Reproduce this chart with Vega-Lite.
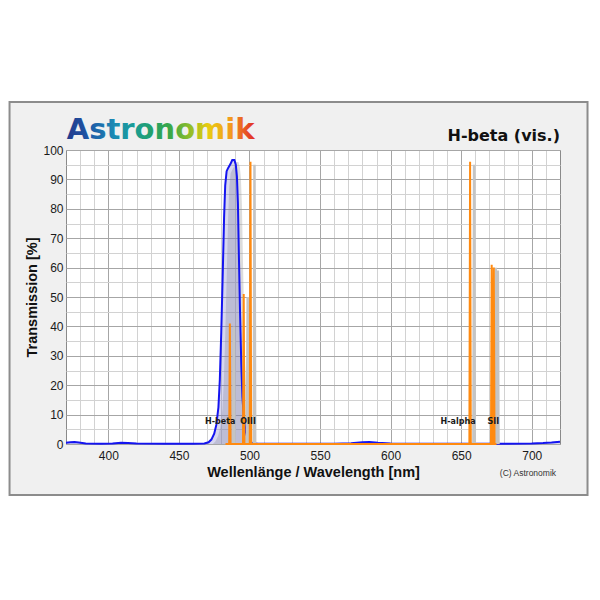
{
  "$schema": "https://vega.github.io/schema/vega-lite/v6.json",
  "width": 494,
  "height": 294,
  "autosize": "none",
  "padding": {"left": 66, "top": 150, "right": 40, "bottom": 156},
  "background": "#f0f0f0",
  "config": {
    "view": {"fill": "white", "stroke": "#8a8a8a", "strokeWidth": 1},
    "axis": {"grid": true, "labelFont": "Liberation Sans", "labelFontSize": 12, "labelColor": "#1a1a1a", "titleFont": "Liberation Sans", "titleFontSize": 14.5, "titleFontWeight": "bold", "titleColor": "#111111", "ticks": false, "domain": false, "labelOverlap": false, "labelFlush": false},
    "axisX": {"labelPadding": 6, "titlePadding": 4},
    "axisY": {"labelPadding": 3, "titlePadding": 3}
  },
  "datasets": {
    "one": [{"k": 1}],
    "filter": [
      {"wl": 370, "t": 0.45}, {"wl": 373, "t": 0.6}, {"wl": 376, "t": 0.7}, {"wl": 379, "t": 0.5}, {"wl": 384, "t": 0.2},
      {"wl": 395, "t": 0.1}, {"wl": 403, "t": 0.15}, {"wl": 409, "t": 0.4}, {"wl": 414, "t": 0.3}, {"wl": 420, "t": 0.15},
      {"wl": 440, "t": 0.1}, {"wl": 460, "t": 0.1}, {"wl": 468, "t": 0.2}, {"wl": 471, "t": 0.6}, {"wl": 473, "t": 1.5},
      {"wl": 475, "t": 3.5}, {"wl": 476.5, "t": 6.5}, {"wl": 478, "t": 12.5}, {"wl": 479, "t": 22}, {"wl": 480, "t": 38},
      {"wl": 481, "t": 57}, {"wl": 482, "t": 77}, {"wl": 482.8, "t": 88}, {"wl": 483.8, "t": 92.8}, {"wl": 485, "t": 94},
      {"wl": 486.5, "t": 95.2}, {"wl": 487.8, "t": 96.6}, {"wl": 489.3, "t": 96.6}, {"wl": 490.3, "t": 95}, {"wl": 491.1, "t": 91},
      {"wl": 491.8, "t": 82}, {"wl": 492.5, "t": 64}, {"wl": 493.3, "t": 45}, {"wl": 494.2, "t": 27}, {"wl": 495, "t": 16},
      {"wl": 496, "t": 9}, {"wl": 497, "t": 5}, {"wl": 498.5, "t": 2.2}, {"wl": 500, "t": 0.9}, {"wl": 502, "t": 0.3},
      {"wl": 506, "t": 0.1}, {"wl": 530, "t": 0.05}, {"wl": 560, "t": 0.1}, {"wl": 572, "t": 0.25}, {"wl": 580, "t": 0.6},
      {"wl": 585, "t": 0.7}, {"wl": 591, "t": 0.4}, {"wl": 600, "t": 0.15}, {"wl": 630, "t": 0.1}, {"wl": 680, "t": 0.1},
      {"wl": 700, "t": 0.15}, {"wl": 708, "t": 0.3}, {"wl": 714, "t": 0.5}, {"wl": 720, "t": 0.8}
    ],
    "lines": [
      {"wl": 483, "t": 0}, {"wl": 485.6, "t": 0}, {"wl": 486.1, "t": 41}, {"wl": 486.6, "t": 0},
      {"wl": 495.4, "t": 0}, {"wl": 495.9, "t": 51}, {"wl": 496.4, "t": 0},
      {"wl": 500.2, "t": 0}, {"wl": 500.7, "t": 96}, {"wl": 501.2, "t": 0},
      {"wl": 655.8, "t": 0}, {"wl": 656.3, "t": 96}, {"wl": 656.8, "t": 0},
      {"wl": 671.1, "t": 0}, {"wl": 671.6, "t": 61}, {"wl": 672.1, "t": 0},
      {"wl": 672.6, "t": 0}, {"wl": 673.1, "t": 60}, {"wl": 673.6, "t": 0}, {"wl": 675, "t": 0}
    ],
    "labels": [
      {"label": "H-beta", "wl": 486.1}, {"label": "OIII", "wl": 500.7},
      {"label": "H-alpha", "wl": 656.3}, {"label": "SII", "wl": 673.1}
    ]
  },
  "layer": [
    {"data": {"name": "one"}, "mark": {"type": "rect", "color": "white"},
     "encoding": {
       "x": {"datum": 200, "type": "quantitative", "scale": {"domain": [370, 720], "nice": false, "zero": false}, "axis": {"grid": true, "title": "Wellenlänge / Wavelength [nm]", "values": [380, 390, 400, 410, 420, 430, 440, 450, 460, 470, 480, 490, 500, 510, 520, 530, 540, 550, 560, 570, 580, 590, 600, 610, 620, 630, 640, 650, 660, 670, 680, 690, 700, 710], "labelExpr": "datum.value % 50 === 0 ? datum.label : ''", "gridColor": {"condition": {"test": "datum.value % 50 === 0", "value": "#a6a6a6"}, "value": "#d2d2d2"}}},
       "x2": {"datum": 900},
       "y": {"datum": 116.3, "type": "quantitative", "scale": {"domain": [0, 100], "nice": false, "zero": false}, "axis": {"grid": true, "title": "Transmission [%]", "values": [0, 5, 10, 15, 20, 25, 30, 35, 40, 45, 50, 55, 60, 65, 70, 75, 80, 85, 90, 95, 100], "labelExpr": "datum.value % 10 === 0 ? datum.label : ''", "gridColor": {"condition": {"test": "datum.value % 10 === 0", "value": "#a6a6a6"}, "value": "#d2d2d2"}}},
       "y2": {"datum": 300}}},
    {"data": {"name": "one"}, "mark": {"type": "rect", "color": "white"},
     "encoding": {
       "x": {"datum": 200, "type": "quantitative", "scale": {"domain": [370, 720], "nice": false, "zero": false}, "axis": {"grid": true, "title": "Wellenlänge / Wavelength [nm]", "values": [380, 390, 400, 410, 420, 430, 440, 450, 460, 470, 480, 490, 500, 510, 520, 530, 540, 550, 560, 570, 580, 590, 600, 610, 620, 630, 640, 650, 660, 670, 680, 690, 700, 710], "labelExpr": "datum.value % 50 === 0 ? datum.label : ''", "gridColor": {"condition": {"test": "datum.value % 50 === 0", "value": "#a6a6a6"}, "value": "#d2d2d2"}}},
       "x2": {"datum": 900},
       "y": {"datum": -17.35, "type": "quantitative", "scale": {"domain": [0, 100], "nice": false, "zero": false}, "axis": {"grid": true, "title": "Transmission [%]", "values": [0, 5, 10, 15, 20, 25, 30, 35, 40, 45, 50, 55, 60, 65, 70, 75, 80, 85, 90, 95, 100], "labelExpr": "datum.value % 10 === 0 ? datum.label : ''", "gridColor": {"condition": {"test": "datum.value % 10 === 0", "value": "#a6a6a6"}, "value": "#d2d2d2"}}},
       "y2": {"datum": -200}}},
    {"data": {"name": "one"}, "mark": {"type": "rect", "color": "white"},
     "encoding": {
       "x": {"datum": 200, "type": "quantitative", "scale": {"domain": [370, 720], "nice": false, "zero": false}, "axis": {"grid": true, "title": "Wellenlänge / Wavelength [nm]", "values": [380, 390, 400, 410, 420, 430, 440, 450, 460, 470, 480, 490, 500, 510, 520, 530, 540, 550, 560, 570, 580, 590, 600, 610, 620, 630, 640, 650, 660, 670, 680, 690, 700, 710], "labelExpr": "datum.value % 50 === 0 ? datum.label : ''", "gridColor": {"condition": {"test": "datum.value % 50 === 0", "value": "#a6a6a6"}, "value": "#d2d2d2"}}},
       "x2": {"datum": 330},
       "y": {"datum": -200, "type": "quantitative", "scale": {"domain": [0, 100], "nice": false, "zero": false}, "axis": {"grid": true, "title": "Transmission [%]", "values": [0, 5, 10, 15, 20, 25, 30, 35, 40, 45, 50, 55, 60, 65, 70, 75, 80, 85, 90, 95, 100], "labelExpr": "datum.value % 10 === 0 ? datum.label : ''", "gridColor": {"condition": {"test": "datum.value % 10 === 0", "value": "#a6a6a6"}, "value": "#d2d2d2"}}},
       "y2": {"datum": 300}}},
    {"data": {"name": "one"}, "mark": {"type": "rect", "color": "white"},
     "encoding": {
       "x": {"datum": 739.5, "type": "quantitative", "scale": {"domain": [370, 720], "nice": false, "zero": false}, "axis": {"grid": true, "title": "Wellenlänge / Wavelength [nm]", "values": [380, 390, 400, 410, 420, 430, 440, 450, 460, 470, 480, 490, 500, 510, 520, 530, 540, 550, 560, 570, 580, 590, 600, 610, 620, 630, 640, 650, 660, 670, 680, 690, 700, 710], "labelExpr": "datum.value % 50 === 0 ? datum.label : ''", "gridColor": {"condition": {"test": "datum.value % 50 === 0", "value": "#a6a6a6"}, "value": "#d2d2d2"}}},
       "x2": {"datum": 900},
       "y": {"datum": -200, "type": "quantitative", "scale": {"domain": [0, 100], "nice": false, "zero": false}, "axis": {"grid": true, "title": "Transmission [%]", "values": [0, 5, 10, 15, 20, 25, 30, 35, 40, 45, 50, 55, 60, 65, 70, 75, 80, 85, 90, 95, 100], "labelExpr": "datum.value % 10 === 0 ? datum.label : ''", "gridColor": {"condition": {"test": "datum.value % 10 === 0", "value": "#a6a6a6"}, "value": "#d2d2d2"}}},
       "y2": {"datum": 300}}},
    {"data": {"name": "one"}, "mark": {"type": "rect", "fill": null, "filled": false, "stroke": "#8c8c8c", "strokeWidth": 2},
     "encoding": {
       "x": {"datum": 330, "type": "quantitative", "scale": {"domain": [370, 720], "nice": false, "zero": false}, "axis": {"grid": true, "title": "Wellenlänge / Wavelength [nm]", "values": [380, 390, 400, 410, 420, 430, 440, 450, 460, 470, 480, 490, 500, 510, 520, 530, 540, 550, 560, 570, 580, 590, 600, 610, 620, 630, 640, 650, 660, 670, 680, 690, 700, 710], "labelExpr": "datum.value % 50 === 0 ? datum.label : ''", "gridColor": {"condition": {"test": "datum.value % 50 === 0", "value": "#a6a6a6"}, "value": "#d2d2d2"}}},
       "x2": {"datum": 739.5},
       "y": {"datum": -17.35, "type": "quantitative", "scale": {"domain": [0, 100], "nice": false, "zero": false}, "axis": {"grid": true, "title": "Transmission [%]", "values": [0, 5, 10, 15, 20, 25, 30, 35, 40, 45, 50, 55, 60, 65, 70, 75, 80, 85, 90, 95, 100], "labelExpr": "datum.value % 10 === 0 ? datum.label : ''", "gridColor": {"condition": {"test": "datum.value % 10 === 0", "value": "#a6a6a6"}, "value": "#d2d2d2"}}},
       "y2": {"datum": 116.3}}},
    {"data": {"name": "one"}, "mark": {"type": "text", "text": "Astronomik", "font": "DejaVu Sans", "fontSize": 29, "fontWeight": "bold", "align": "left", "baseline": "alphabetic",
       "color": {"gradient": "linear", "x1": 0, "x2": 1, "y1": 0, "y2": 0, "stops": [
         {"offset": 0, "color": "#233a8c"}, {"offset": 0.12, "color": "#1e58a6"}, {"offset": 0.25, "color": "#1b8ab4"},
         {"offset": 0.35, "color": "#1a9c98"}, {"offset": 0.45, "color": "#22a06a"}, {"offset": 0.55, "color": "#3aa848"},
         {"offset": 0.65, "color": "#8cbc2a"}, {"offset": 0.75, "color": "#e8cc10"}, {"offset": 0.87, "color": "#f39a1e"},
         {"offset": 1, "color": "#e02828"}]}},
     "encoding": {
       "x": {"datum": 370.5, "type": "quantitative", "scale": {"domain": [370, 720], "nice": false, "zero": false}, "axis": {"grid": true, "title": "Wellenlänge / Wavelength [nm]", "values": [380, 390, 400, 410, 420, 430, 440, 450, 460, 470, 480, 490, 500, 510, 520, 530, 540, 550, 560, 570, 580, 590, 600, 610, 620, 630, 640, 650, 660, 670, 680, 690, 700, 710], "labelExpr": "datum.value % 50 === 0 ? datum.label : ''", "gridColor": {"condition": {"test": "datum.value % 50 === 0", "value": "#a6a6a6"}, "value": "#d2d2d2"}}},
       "y": {"datum": 103.6, "type": "quantitative", "scale": {"domain": [0, 100], "nice": false, "zero": false}, "axis": {"grid": true, "title": "Transmission [%]", "values": [0, 5, 10, 15, 20, 25, 30, 35, 40, 45, 50, 55, 60, 65, 70, 75, 80, 85, 90, 95, 100], "labelExpr": "datum.value % 10 === 0 ? datum.label : ''", "gridColor": {"condition": {"test": "datum.value % 10 === 0", "value": "#a6a6a6"}, "value": "#d2d2d2"}}}}},
    {"data": {"name": "one"}, "mark": {"type": "text", "text": "H-beta (vis.)", "font": "DejaVu Sans", "fontSize": 16, "fontWeight": "bold", "align": "right", "baseline": "alphabetic", "color": "#111111"},
     "encoding": {
       "x": {"datum": 720, "type": "quantitative", "scale": {"domain": [370, 720], "nice": false, "zero": false}, "axis": {"grid": true, "title": "Wellenlänge / Wavelength [nm]", "values": [380, 390, 400, 410, 420, 430, 440, 450, 460, 470, 480, 490, 500, 510, 520, 530, 540, 550, 560, 570, 580, 590, 600, 610, 620, 630, 640, 650, 660, 670, 680, 690, 700, 710], "labelExpr": "datum.value % 50 === 0 ? datum.label : ''", "gridColor": {"condition": {"test": "datum.value % 50 === 0", "value": "#a6a6a6"}, "value": "#d2d2d2"}}},
       "y": {"datum": 103.2, "type": "quantitative", "scale": {"domain": [0, 100], "nice": false, "zero": false}, "axis": {"grid": true, "title": "Transmission [%]", "values": [0, 5, 10, 15, 20, 25, 30, 35, 40, 45, 50, 55, 60, 65, 70, 75, 80, 85, 90, 95, 100], "labelExpr": "datum.value % 10 === 0 ? datum.label : ''", "gridColor": {"condition": {"test": "datum.value % 10 === 0", "value": "#a6a6a6"}, "value": "#d2d2d2"}}}}},
    {"data": {"name": "one"}, "mark": {"type": "text", "text": "(C) Astronomik", "font": "Liberation Sans", "fontSize": 8.5, "align": "right", "baseline": "middle", "color": "#333333"},
     "encoding": {
       "x": {"datum": 717.2, "type": "quantitative", "scale": {"domain": [370, 720], "nice": false, "zero": false}, "axis": {"grid": true, "title": "Wellenlänge / Wavelength [nm]", "values": [380, 390, 400, 410, 420, 430, 440, 450, 460, 470, 480, 490, 500, 510, 520, 530, 540, 550, 560, 570, 580, 590, 600, 610, 620, 630, 640, 650, 660, 670, 680, 690, 700, 710], "labelExpr": "datum.value % 50 === 0 ? datum.label : ''", "gridColor": {"condition": {"test": "datum.value % 50 === 0", "value": "#a6a6a6"}, "value": "#d2d2d2"}}},
       "y": {"datum": -9.9, "type": "quantitative", "scale": {"domain": [0, 100], "nice": false, "zero": false}, "axis": {"grid": true, "title": "Transmission [%]", "values": [0, 5, 10, 15, 20, 25, 30, 35, 40, 45, 50, 55, 60, 65, 70, 75, 80, 85, 90, 95, 100], "labelExpr": "datum.value % 10 === 0 ? datum.label : ''", "gridColor": {"condition": {"test": "datum.value % 10 === 0", "value": "#a6a6a6"}, "value": "#d2d2d2"}}}}},
    {"data": {"name": "filter"}, "mark": {"type": "area", "color": "#9a9a9a", "opacity": 0.35, "xOffset": 4, "yOffset": 2, "clip": true},
     "encoding": {
       "x": {"field": "wl", "type": "quantitative", "scale": {"domain": [370, 720], "nice": false, "zero": false}, "axis": {"grid": true, "title": "Wellenlänge / Wavelength [nm]", "values": [380, 390, 400, 410, 420, 430, 440, 450, 460, 470, 480, 490, 500, 510, 520, 530, 540, 550, 560, 570, 580, 590, 600, 610, 620, 630, 640, 650, 660, 670, 680, 690, 700, 710], "labelExpr": "datum.value % 50 === 0 ? datum.label : ''", "gridColor": {"condition": {"test": "datum.value % 50 === 0", "value": "#a6a6a6"}, "value": "#d2d2d2"}}},
       "y": {"field": "t", "type": "quantitative", "scale": {"domain": [0, 100], "nice": false, "zero": false}, "axis": {"grid": true, "title": "Transmission [%]", "values": [0, 5, 10, 15, 20, 25, 30, 35, 40, 45, 50, 55, 60, 65, 70, 75, 80, 85, 90, 95, 100], "labelExpr": "datum.value % 10 === 0 ? datum.label : ''", "gridColor": {"condition": {"test": "datum.value % 10 === 0", "value": "#a6a6a6"}, "value": "#d2d2d2"}}}}},
    {"data": {"name": "filter"}, "mark": {"type": "area", "color": "#6060c0", "opacity": 0.25},
     "encoding": {
       "x": {"field": "wl", "type": "quantitative", "scale": {"domain": [370, 720], "nice": false, "zero": false}, "axis": {"grid": true, "title": "Wellenlänge / Wavelength [nm]", "values": [380, 390, 400, 410, 420, 430, 440, 450, 460, 470, 480, 490, 500, 510, 520, 530, 540, 550, 560, 570, 580, 590, 600, 610, 620, 630, 640, 650, 660, 670, 680, 690, 700, 710], "labelExpr": "datum.value % 50 === 0 ? datum.label : ''", "gridColor": {"condition": {"test": "datum.value % 50 === 0", "value": "#a6a6a6"}, "value": "#d2d2d2"}}},
       "y": {"field": "t", "type": "quantitative", "scale": {"domain": [0, 100], "nice": false, "zero": false}, "axis": {"grid": true, "title": "Transmission [%]", "values": [0, 5, 10, 15, 20, 25, 30, 35, 40, 45, 50, 55, 60, 65, 70, 75, 80, 85, 90, 95, 100], "labelExpr": "datum.value % 10 === 0 ? datum.label : ''", "gridColor": {"condition": {"test": "datum.value % 10 === 0", "value": "#a6a6a6"}, "value": "#d2d2d2"}}}}},
    {"data": {"name": "filter"}, "mark": {"type": "line", "color": "#1414f0", "strokeWidth": 2},
     "encoding": {
       "x": {"field": "wl", "type": "quantitative", "scale": {"domain": [370, 720], "nice": false, "zero": false}, "axis": {"grid": true, "title": "Wellenlänge / Wavelength [nm]", "values": [380, 390, 400, 410, 420, 430, 440, 450, 460, 470, 480, 490, 500, 510, 520, 530, 540, 550, 560, 570, 580, 590, 600, 610, 620, 630, 640, 650, 660, 670, 680, 690, 700, 710], "labelExpr": "datum.value % 50 === 0 ? datum.label : ''", "gridColor": {"condition": {"test": "datum.value % 50 === 0", "value": "#a6a6a6"}, "value": "#d2d2d2"}}},
       "y": {"field": "t", "type": "quantitative", "scale": {"domain": [0, 100], "nice": false, "zero": false}, "axis": {"grid": true, "title": "Transmission [%]", "values": [0, 5, 10, 15, 20, 25, 30, 35, 40, 45, 50, 55, 60, 65, 70, 75, 80, 85, 90, 95, 100], "labelExpr": "datum.value % 10 === 0 ? datum.label : ''", "gridColor": {"condition": {"test": "datum.value % 10 === 0", "value": "#a6a6a6"}, "value": "#d2d2d2"}}}}},
    {"data": {"name": "lines"}, "mark": {"type": "line", "color": "#c4c4c4", "strokeWidth": 2.5, "xOffset": 4, "yOffset": 3, "clip": true},
     "encoding": {
       "x": {"field": "wl", "type": "quantitative", "scale": {"domain": [370, 720], "nice": false, "zero": false}, "axis": {"grid": true, "title": "Wellenlänge / Wavelength [nm]", "values": [380, 390, 400, 410, 420, 430, 440, 450, 460, 470, 480, 490, 500, 510, 520, 530, 540, 550, 560, 570, 580, 590, 600, 610, 620, 630, 640, 650, 660, 670, 680, 690, 700, 710], "labelExpr": "datum.value % 50 === 0 ? datum.label : ''", "gridColor": {"condition": {"test": "datum.value % 50 === 0", "value": "#a6a6a6"}, "value": "#d2d2d2"}}},
       "y": {"field": "t", "type": "quantitative", "scale": {"domain": [0, 100], "nice": false, "zero": false}, "axis": {"grid": true, "title": "Transmission [%]", "values": [0, 5, 10, 15, 20, 25, 30, 35, 40, 45, 50, 55, 60, 65, 70, 75, 80, 85, 90, 95, 100], "labelExpr": "datum.value % 10 === 0 ? datum.label : ''", "gridColor": {"condition": {"test": "datum.value % 10 === 0", "value": "#a6a6a6"}, "value": "#d2d2d2"}}}}},
    {"data": {"name": "lines"}, "mark": {"type": "line", "color": "#ff8a10", "strokeWidth": 2},
     "encoding": {
       "x": {"field": "wl", "type": "quantitative", "scale": {"domain": [370, 720], "nice": false, "zero": false}, "axis": {"grid": true, "title": "Wellenlänge / Wavelength [nm]", "values": [380, 390, 400, 410, 420, 430, 440, 450, 460, 470, 480, 490, 500, 510, 520, 530, 540, 550, 560, 570, 580, 590, 600, 610, 620, 630, 640, 650, 660, 670, 680, 690, 700, 710], "labelExpr": "datum.value % 50 === 0 ? datum.label : ''", "gridColor": {"condition": {"test": "datum.value % 50 === 0", "value": "#a6a6a6"}, "value": "#d2d2d2"}}},
       "y": {"field": "t", "type": "quantitative", "scale": {"domain": [0, 100], "nice": false, "zero": false}, "axis": {"grid": true, "title": "Transmission [%]", "values": [0, 5, 10, 15, 20, 25, 30, 35, 40, 45, 50, 55, 60, 65, 70, 75, 80, 85, 90, 95, 100], "labelExpr": "datum.value % 10 === 0 ? datum.label : ''", "gridColor": {"condition": {"test": "datum.value % 10 === 0", "value": "#a6a6a6"}, "value": "#d2d2d2"}}}}},
    {"data": {"name": "labels"}, "mark": {"type": "text", "font": "DejaVu Sans", "fontSize": 8, "fontWeight": "bold", "align": "right", "baseline": "middle", "dx": 5.5, "color": "#1a1a1a"},
     "encoding": {"text": {"field": "label"},
       "x": {"field": "wl", "type": "quantitative", "scale": {"domain": [370, 720], "nice": false, "zero": false}, "axis": {"grid": true, "title": "Wellenlänge / Wavelength [nm]", "values": [380, 390, 400, 410, 420, 430, 440, 450, 460, 470, 480, 490, 500, 510, 520, 530, 540, 550, 560, 570, 580, 590, 600, 610, 620, 630, 640, 650, 660, 670, 680, 690, 700, 710], "labelExpr": "datum.value % 50 === 0 ? datum.label : ''", "gridColor": {"condition": {"test": "datum.value % 50 === 0", "value": "#a6a6a6"}, "value": "#d2d2d2"}}},
       "y": {"datum": 7.5, "type": "quantitative", "scale": {"domain": [0, 100], "nice": false, "zero": false}, "axis": {"grid": true, "title": "Transmission [%]", "values": [0, 5, 10, 15, 20, 25, 30, 35, 40, 45, 50, 55, 60, 65, 70, 75, 80, 85, 90, 95, 100], "labelExpr": "datum.value % 10 === 0 ? datum.label : ''", "gridColor": {"condition": {"test": "datum.value % 10 === 0", "value": "#a6a6a6"}, "value": "#d2d2d2"}}}}}
  ]
}
